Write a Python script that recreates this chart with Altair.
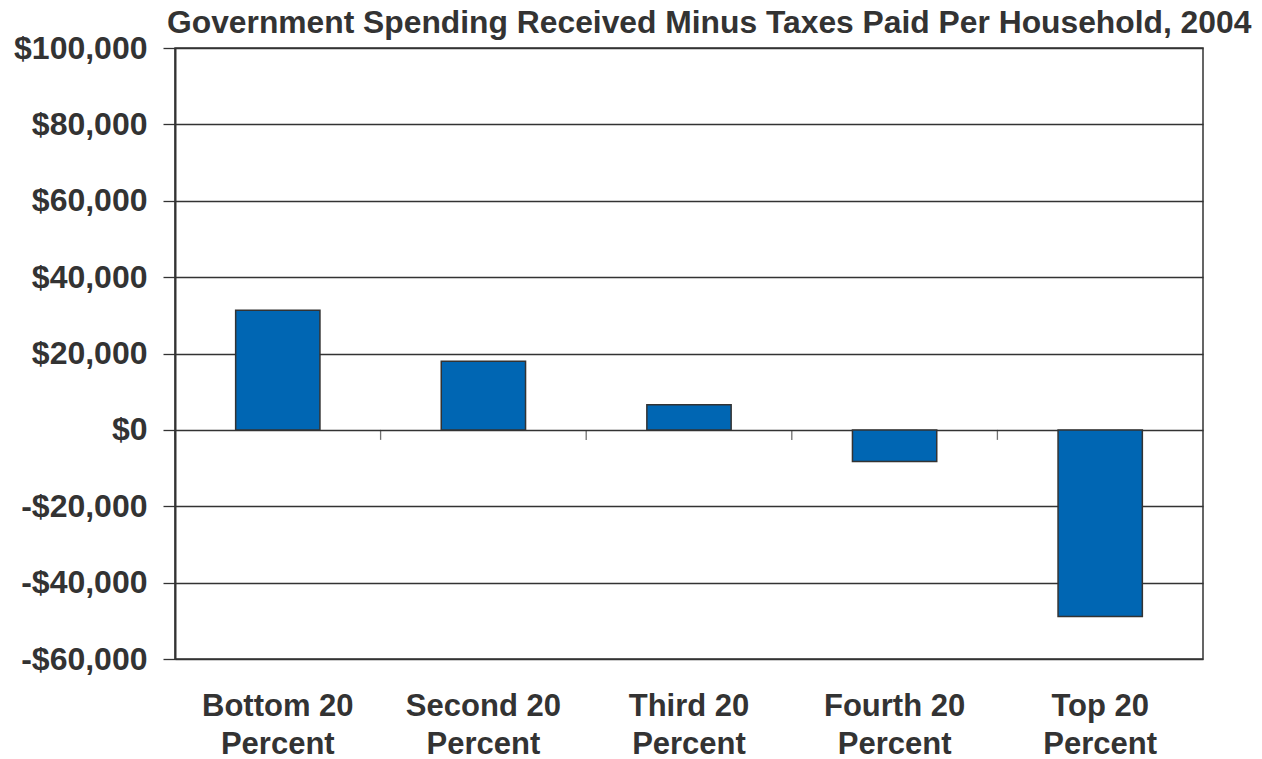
import altair as alt
import pandas as pd

categories = ["Bottom 20 Percent", "Second 20 Percent", "Third 20 Percent",
              "Fourth 20 Percent", "Top 20 Percent"]
values = [31300, 18000, 6600, -8300, -48900]
y_ticks = [-60000, -40000, -20000, 0, 20000, 40000, 60000, 80000, 100000]
title_text = "Government Spending Received Minus Taxes Paid Per Household, 2004"

df = pd.DataFrame({"group": categories, "value": values})

FONT = "Liberation Sans"
TXT = "#333333"

x_enc = alt.X(
    "group:N", sort=categories, title=None,
    scale=alt.Scale(paddingInner=0, paddingOuter=0),
    axis=alt.Axis(
        domain=False, ticks=False, labelAngle=0, labelFont=FONT,
        labelFontSize=31, labelFontWeight="bold", labelColor=TXT,
        labelPadding=32, labelLineHeight=38,
        labelExpr="[replace(datum.label, ' Percent', ''), 'Percent']",
    ),
)
y_scale = alt.Scale(domain=[-60000, 100000], nice=False, zero=False)

bars = alt.Chart(df).mark_bar(
    width=alt.RelativeBandSize(0.41), color="#0066B3",
    stroke="#333333", strokeWidth=1.5,
).encode(
    x=x_enc,
    y=alt.Y(
        "value:Q", scale=y_scale, title=None,
        axis=alt.Axis(
            values=y_ticks, grid=True, gridColor="#333333", gridWidth=1.3,
            gridOpacity=1, domainColor="#333333", domainWidth=2,
            tickColor="#333333", tickSize=12, tickWidth=1.3,
            labelFont=FONT, labelFontSize=32, labelFontWeight="bold",
            labelColor=TXT, labelPadding=16,
            labelExpr="(datum.value < 0 ? '-' : '') + '$' + format(abs(datum.value), ',')",
        ),
    ),
)

ticks = alt.Chart(df).mark_tick(
    orient="vertical", size=10, thickness=1.3, color="#333333", yOffset=5,
).encode(
    x=alt.X("group:N", sort=categories, bandPosition=0),
    y=alt.datum(0),
)

chart = alt.layer(bars, ticks).properties(
    width=1028, height=611,
    padding={"left": 167, "top": 40, "right": 51, "bottom": 98},
    autosize=alt.AutoSizeParams(type="none"),
    title=alt.TitleParams(
        title_text, font=FONT, fontSize=31.8, fontWeight="bold", color=TXT,
        anchor="start", frame="group", dx=-8, dy=16, offset=8,
    ),
).configure_view(stroke="#333333", strokeWidth=1.5)

chart.save("out.html", embed_options={"renderer": "svg", "actions": False})
